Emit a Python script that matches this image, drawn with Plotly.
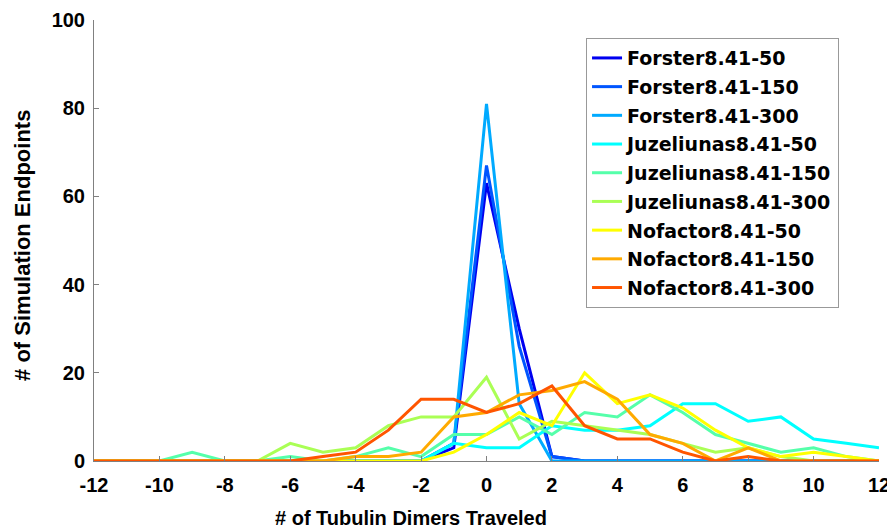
import plotly.graph_objects as go

x_vals = list(range(-12, 13))

forster_50 = [0]*11 + [3, 63, 30, 1] + [0]*10
forster_150 = [0]*11 + [4, 67, 26, 1] + [0]*10
forster_300 = [0]*11 + [4, 81, 13, 0] + [0]*10
juz_50 = [0]*10 + [0, 4, 3, 3, 8, 7, 7, 8, 13, 13, 9, 10, 5, 4, 3]
juz_150 = [0, 0, 0, 2, 0, 0, 1, 0, 1, 3, 1, 6, 6, 10, 6, 11, 10, 15, 11, 6, 4, 2, 3, 1, 0]
juz_300 = [0, 0, 0, 0, 0, 0, 4, 2, 3, 8, 10, 10, 19, 5, 9, 8, 7, 6, 4, 2, 3, 1, 0, 0, 0]
nof_50 = [0]*11 + [2, 6, 11, 8, 20, 13, 15, 12, 7, 3, 1, 2, 1, 0]
nof_150 = [0]*8 + [1, 1, 2, 10, 11, 15, 16, 18, 14, 6, 4, 0, 3, 0, 0, 0, 0]
nof_300 = [0]*7 + [1, 2, 7, 14, 14, 11, 13, 17, 8, 5, 5, 2, 0, 1, 0, 0, 0, 0]

series_names = ["Forster8.41-50", "Forster8.41-150", "Forster8.41-300",
                "Juzeliunas8.41-50", "Juzeliunas8.41-150", "Juzeliunas8.41-300",
                "Nofactor8.41-50", "Nofactor8.41-150", "Nofactor8.41-300"]
series_values = [forster_50, forster_150, forster_300, juz_50, juz_150, juz_300,
                 nof_50, nof_150, nof_300]
colors = ["#0000f0", "#0055ff", "#00aaff", "#00ffff", "#55ffaa", "#aaff55",
          "#ffff00", "#ffaa00", "#ff5500"]

x_ticks = list(range(-12, 13, 2))
y_ticks = [0, 20, 40, 60, 80, 100]
x_title = "# of Tubulin Dimers Traveled"
y_title = "# of Simulation Endpoints"

fig = go.Figure()
for i, (name, vals, col) in enumerate(zip(series_names, series_values, colors)):
    fig.add_trace(go.Scatter(x=x_vals, y=vals, mode="lines", name=name,
                             legendgroup=f"g{i}",
                             line=dict(color=col, width=3)))

font_family = "Liberation Sans, Arial, sans-serif"
fig.update_layout(
    width=887, height=521,
    margin=dict(l=86, r=16, t=12, b=68),
    paper_bgcolor="white", plot_bgcolor="white",
    font=dict(family=font_family, color="black"),
    legend=dict(x=0.6268, y=0.959, xanchor="left", yanchor="top",
                bordercolor="#999999", borderwidth=1, bgcolor="white",
                tracegroupgap=1, traceorder="grouped",
                font=dict(family="DejaVu Sans", size=19, color="black", weight="bold")),
    showlegend=True,
    annotations=[
        dict(text=x_title, xref="paper", yref="paper", x=0.404, y=-0.130,
             xanchor="center", yanchor="middle", showarrow=False,
             font=dict(size=20, color="black", weight="bold", family=font_family)),
        dict(text=y_title, xref="paper", yref="paper", x=-0.091, y=0.489,
             xanchor="center", yanchor="middle", showarrow=False, textangle=-90,
             font=dict(size=22, color="black", weight="bold", family=font_family)),
    ],
)
fig.update_xaxes(range=[-12, 12], tickvals=x_ticks, ticktext=[str(v) for v in x_ticks],
                 automargin=False,
                 showgrid=False, zeroline=False, showline=True, linecolor="#808080",
                 linewidth=1, ticks="inside", ticklen=5, tickcolor="#808080",
                 ticklabelstandoff=6,
                 tickfont=dict(size=20, color="black", weight="bold"))
fig.update_yaxes(range=[0, 100], tickvals=y_ticks, automargin=False,
                 showgrid=False, zeroline=False, showline=True, linecolor="#808080",
                 linewidth=1, ticks="inside", ticklen=5, tickcolor="#808080",
                 ticklabelstandoff=4,
                 tickfont=dict(size=20, color="black", weight="bold"))

fig.write_html("out.html")
